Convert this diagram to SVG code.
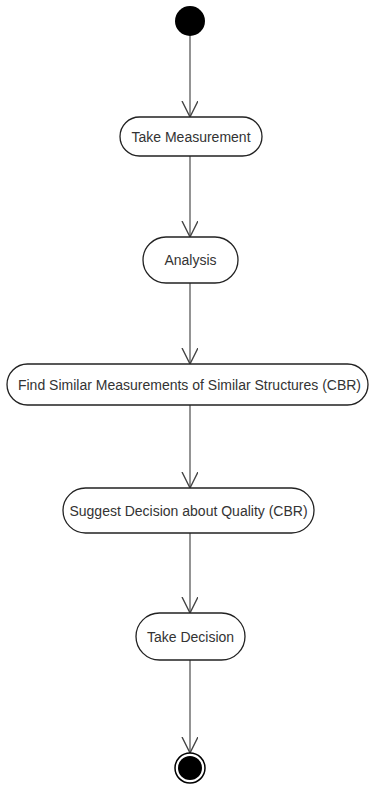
<svg xmlns="http://www.w3.org/2000/svg" width="371" height="787" viewBox="0 0 371 787">
<style>
.node{fill:#fff;stroke:#222;stroke-width:1.3}
.lbl{font-family:"Liberation Sans",Arial,sans-serif;font-size:14px;fill:#333;text-anchor:middle}
.edge{stroke:#666;stroke-width:1.4;fill:none}
</style>
<defs>
<marker id="arr" markerWidth="20" markerHeight="20" refX="16" refY="8" orient="auto" markerUnits="userSpaceOnUse">
<path d="M0,0 L16,8 L0,16" fill="none" stroke="#444" stroke-width="1.4"/>
</marker>
</defs>
<rect width="371" height="787" fill="#fff"/>
<g id="connectors">
<line class="edge" x1="190" y1="36" x2="190" y2="117" marker-end="url(#arr)"/>
<line class="edge" x1="190" y1="156" x2="190" y2="237" marker-end="url(#arr)"/>
<line class="edge" x1="190" y1="283" x2="190" y2="364" marker-end="url(#arr)"/>
<line class="edge" x1="190" y1="405" x2="190" y2="488" marker-end="url(#arr)"/>
<line class="edge" x1="190" y1="533" x2="190" y2="613" marker-end="url(#arr)"/>
<line class="edge" x1="190" y1="660" x2="190" y2="753" marker-end="url(#arr)"/>
</g>
<g id="start"><circle cx="190" cy="21" r="15" fill="#000"/></g>
<g id="take-measurement">
<rect class="node" x="120" y="117" width="142" height="39" rx="19.5"/>
<text class="lbl" x="191" y="141.5">Take Measurement</text>
</g>
<g id="analysis">
<rect class="node" x="143" y="237" width="95" height="46" rx="23"/>
<text class="lbl" x="190.5" y="265">Analysis</text>
</g>
<g id="find-similar">
<rect class="node" x="7" y="364" width="361" height="41" rx="20.5"/>
<text class="lbl" x="189.5" y="390">Find Similar Measurements of Similar Structures (CBR)</text>
</g>
<g id="suggest-decision">
<rect class="node" x="63" y="488" width="251" height="45" rx="22.5"/>
<text class="lbl" x="188.5" y="515.5">Suggest Decision about Quality (CBR)</text>
</g>
<g id="take-decision">
<rect class="node" x="136" y="613" width="109" height="47" rx="23.5"/>
<text class="lbl" x="190.5" y="641.5">Take Decision</text>
</g>
<g id="end">
<circle cx="190" cy="768" r="15" fill="#fff" stroke="#000" stroke-width="1.5"/>
<circle cx="190" cy="768" r="12" fill="#000"/>
</g>
</svg>
